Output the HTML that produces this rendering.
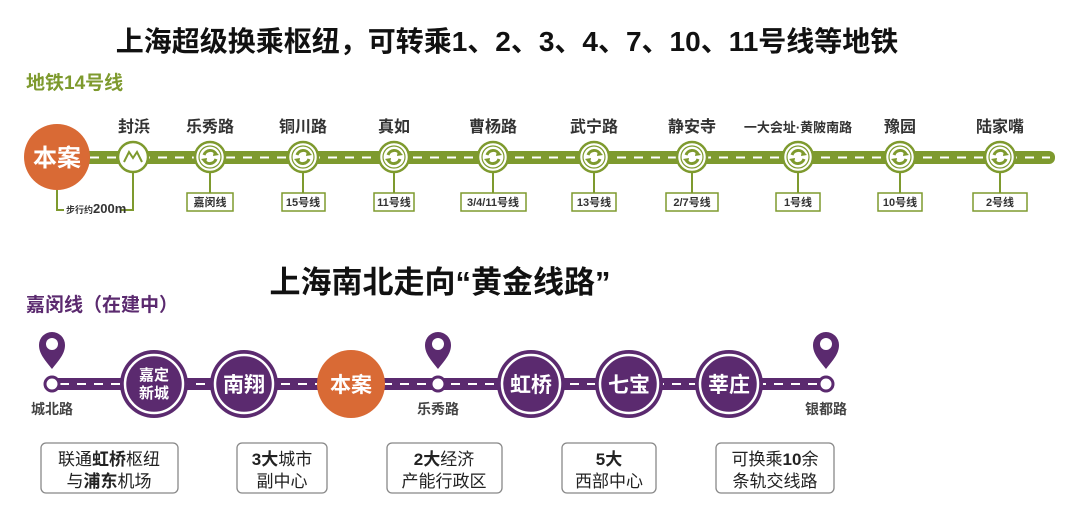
<!DOCTYPE html>
<html><head><meta charset="utf-8"><style>
html,body{margin:0;padding:0;background:#fff;}
svg{display:block;font-family:"Liberation Sans","Noto Sans CJK SC",sans-serif;}
</style></head><body>
<svg width="1080" height="519" viewBox="0 0 1080 519">
<defs>
<g id="st"><circle r="15" fill="#fff" stroke="#7e9a2e" stroke-width="2.5"/><circle r="11" fill="#fff" stroke="#7e9a2e" stroke-width="1.2"/><path d="M-6,-2 A6.5,6.5 0 0 1 6,-3" fill="none" stroke="#7e9a2e" stroke-width="3"/><path d="M6,2 A6.5,6.5 0 0 1 -6,3" fill="none" stroke="#7e9a2e" stroke-width="3"/><path d="M4,-7 L9,-2 L3,-1 Z M-4,7 L-9,2 L-3,1 Z" fill="#7e9a2e"/></g>
<g id="pin"><path d="M0,26 C-7,17 -13,11 -13,2 A13,13 0 0 1 13,2 C13,11 7,17 0,26 Z" fill="#5b2a6f"/><circle cx="0" cy="1" r="6" fill="#fff"/></g>
</defs>
<text x="507" y="51" text-anchor="middle" font-size="28" font-weight="bold" fill="#111">上海超级换乘枢纽，可转乘1、2、3、4、7、10、11号线等地铁</text>
<text x="26" y="89" font-size="19" font-weight="bold" fill="#7e9a2e">地铁14号线</text>
<rect x="40" y="151" width="1015" height="13" rx="6" fill="#7e9a2e"/>
<line x1="90" y1="157.5" x2="1050" y2="157.5" stroke="#fff" stroke-width="2" stroke-dasharray="9,8"/>
<circle cx="57" cy="157" r="33" fill="#d96a35"/>
<text x="57" y="166" text-anchor="middle" font-size="24" font-weight="bold" fill="#fff">本案</text>
<path d="M57,190 V210 H64 M120,210 H133 V171" fill="none" stroke="#7e9a2e" stroke-width="2"/>
<text x="66" y="213" font-size="9" font-weight="bold" fill="#333">步行约<tspan font-size="13">200m</tspan></text>
<circle cx="133" cy="157" r="15" fill="#fff" stroke="#7e9a2e" stroke-width="2.5"/>
<path d="M124,162 L129,152 L133,158 L137,152 L142,162" fill="none" stroke="#7e9a2e" stroke-width="2"/>
<g font-size="16" font-weight="bold" fill="#333" text-anchor="middle">
<text x="134" y="132">封浜</text><text x="210" y="132">乐秀路</text><text x="303" y="132">铜川路</text><text x="394" y="132">真如</text><text x="493" y="132">曹杨路</text><text x="594" y="132">武宁路</text><text x="692" y="132">静安寺</text><text x="798" y="132" font-size="13">一大会址·黄陂南路</text><text x="900" y="132">豫园</text><text x="1000" y="132">陆家嘴</text>
</g>
<g stroke="#7e9a2e" stroke-width="2">
<line x1="210" y1="170" x2="210" y2="193"/><line x1="303" y1="170" x2="303" y2="193"/><line x1="394" y1="170" x2="394" y2="193"/><line x1="493" y1="170" x2="493" y2="193"/><line x1="594" y1="170" x2="594" y2="193"/><line x1="692" y1="170" x2="692" y2="193"/><line x1="798" y1="170" x2="798" y2="193"/><line x1="900" y1="170" x2="900" y2="193"/><line x1="1000" y1="170" x2="1000" y2="193"/>
</g>
<use href="#st" x="210" y="157"/><use href="#st" x="303" y="157"/><use href="#st" x="394" y="157"/><use href="#st" x="493" y="157"/><use href="#st" x="594" y="157"/><use href="#st" x="692" y="157"/><use href="#st" x="798" y="157"/><use href="#st" x="900" y="157"/><use href="#st" x="1000" y="157"/>
<g fill="#fff" stroke="#7e9a2e" stroke-width="1.5">
<rect x="187" y="193" width="46" height="18"/><rect x="282" y="193" width="43" height="18"/><rect x="374" y="193" width="40" height="18"/><rect x="461" y="193" width="65" height="18"/><rect x="572" y="193" width="44" height="18"/><rect x="666" y="193" width="52" height="18"/><rect x="776" y="193" width="44" height="18"/><rect x="878" y="193" width="44" height="18"/><rect x="973" y="193" width="54" height="18"/>
</g>
<g font-size="11" font-weight="bold" fill="#333" text-anchor="middle">
<text x="210" y="206">嘉闵线</text><text x="303" y="206">15号线</text><text x="394" y="206">11号线</text><text x="493" y="206">3/4/11号线</text><text x="594" y="206">13号线</text><text x="692" y="206">2/7号线</text><text x="798" y="206">1号线</text><text x="900" y="206">10号线</text><text x="1000" y="206">2号线</text>
</g>
<text x="440" y="293" text-anchor="middle" font-size="31" font-weight="bold" fill="#111">上海南北走向“黄金线路”</text>
<text x="26" y="311" font-size="19" font-weight="bold" fill="#5b2a6f">嘉闵线（在建中）</text>
<rect x="52" y="378" width="774" height="12" fill="#5b2a6f"/>
<line x1="60" y1="384" x2="820" y2="384" stroke="#fff" stroke-width="2" stroke-dasharray="9,8"/>
<use href="#pin" x="52" y="343"/><use href="#pin" x="438" y="343"/><use href="#pin" x="826" y="343"/>
<g fill="#fff" stroke="#5b2a6f" stroke-width="3"><circle cx="52" cy="384" r="7"/><circle cx="438" cy="384" r="7"/><circle cx="826" cy="384" r="7"/></g>
<g fill="#5b2a6f"><circle cx="154" cy="384" r="34"/><circle cx="244" cy="384" r="34"/><circle cx="531" cy="384" r="34"/><circle cx="629" cy="384" r="34"/><circle cx="729" cy="384" r="34"/></g>
<g fill="none" stroke="#fff" stroke-width="2.5"><circle cx="154" cy="384" r="29"/><circle cx="244" cy="384" r="29"/><circle cx="531" cy="384" r="29"/><circle cx="629" cy="384" r="29"/><circle cx="729" cy="384" r="29"/></g>
<circle cx="351" cy="384" r="34" fill="#d96a35"/>
<g fill="#fff" font-weight="bold" text-anchor="middle" font-size="21">
<text x="154" y="380" font-size="15">嘉定</text><text x="154" y="398" font-size="15">新城</text>
<text x="244" y="392">南翔</text><text x="351" y="392">本案</text><text x="531" y="392">虹桥</text><text x="629" y="392">七宝</text><text x="729" y="392">莘庄</text>
</g>
<g font-size="14" font-weight="bold" fill="#444" text-anchor="middle">
<text x="52" y="414">城北路</text><text x="438" y="414">乐秀路</text><text x="826" y="414">银都路</text>
</g>
<g fill="#fff" stroke="#888" stroke-width="1.3">
<rect x="41" y="443" width="137" height="50" rx="5"/><rect x="237" y="443" width="90" height="50" rx="5"/><rect x="387" y="443" width="115" height="50" rx="5"/><rect x="562" y="443" width="94" height="50" rx="5"/><rect x="716" y="443" width="118" height="50" rx="5"/>
</g>
<g font-size="17" fill="#222" text-anchor="middle">
<text x="109" y="465">联通<tspan font-weight="bold">虹桥</tspan>枢纽</text><text x="109" y="487">与<tspan font-weight="bold">浦东</tspan>机场</text>
<text x="282" y="465"><tspan font-weight="bold">3大</tspan>城市</text><text x="282" y="487">副中心</text>
<text x="444" y="465"><tspan font-weight="bold">2大</tspan>经济</text><text x="444" y="487">产能行政区</text>
<text x="609" y="465" font-weight="bold">5大</text><text x="609" y="487">西部中心</text>
<text x="775" y="465">可换乘<tspan font-weight="bold">10</tspan>余</text><text x="775" y="487">条轨交线路</text>
</g>
</svg>
</body></html>
